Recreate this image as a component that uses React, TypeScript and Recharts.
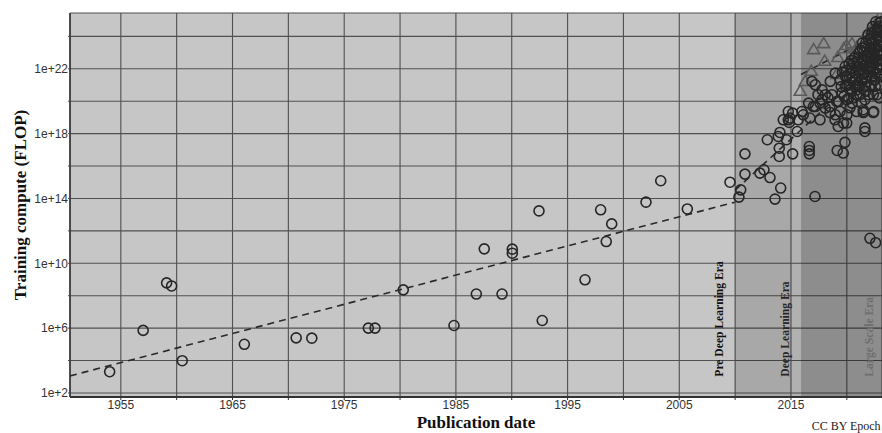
import React from 'react';
import { ScatterChart, Scatter, XAxis, YAxis, CartesianGrid, ReferenceArea } from 'recharts';

// [publication year, log10(training compute FLOP)]
const preDeepLearningModels: [number, number][] = [
  [1954.0, 3.31], [1957.0, 5.86], [1959.1, 8.79], [1959.55, 8.6], [1960.5, 3.99],
  [1966.06, 5.0], [1970.7, 5.4], [1972.1, 5.38], [1977.16, 6.0], [1977.76, 6.0],
  [1980.29, 8.36], [1984.83, 6.16], [1986.83, 8.1], [1987.54, 10.89], [1989.13, 8.1],
  [1990.05, 10.87], [1990.05, 10.62], [1992.44, 13.23], [1992.73, 6.47], [1996.56, 8.98],
  [1997.96, 13.3], [1998.95, 12.43], [1998.46, 11.34], [2002.02, 13.77], [2003.34, 15.09],
  [2005.72, 13.35], [2009.54, 15.0],
];

const deepLearningModels: [number, number][] = [
  [2010.34, 14.08], [2010.5, 14.53], [2010.88, 15.5], [2010.88, 16.75], [2012.22, 15.56],
  [2012.58, 15.77], [2013.12, 15.29], [2013.57, 13.96], [2014.08, 14.64], [2012.88, 17.62],
  [2013.86, 17.82], [2014.01, 18.07], [2013.95, 17.1], [2013.95, 16.59], [2014.6, 17.62],
  [2014.76, 18.85], [2014.85, 18.69], [2014.91, 18.96], [2015.56, 18.13], [2015.15, 16.75],
  [2015.15, 19.26], [2014.76, 19.36], [2014.31, 18.85], [2015.65, 18.85],
];

const recentModels: [number, number][] = [
  [2015.98, 19.36], [2016.1, 19.16], [2016.7, 18.96], [2016.64, 17.2], [2016.64, 16.96],
  [2016.64, 16.75], [2017.15, 14.12], [2017.6, 18.85], [2017.0, 19.67], [2018.49, 19.3],
  [2019.23, 18.44], [2019.7, 18.65], [2019.14, 16.96], [2019.68, 16.8], [2019.83, 17.46],
  [2021.62, 18.35], [2021.62, 18.13], [2021.47, 19.3], [2022.37, 19.3], [2022.07, 11.54],
  [2022.58, 11.27],
  [2016.88, 21.22], [2017.18, 21.01], [2017.78, 20.7], [2018.07, 20.4], [2018.67, 20.4],
  [2019.27, 19.98], [2020.17, 20.19], [2020.46, 19.88], [2020.91, 20.4], [2021.96, 20.4],
  [2021.51, 19.36], [2022.41, 19.36], [2017.18, 19.67], [2018.07, 19.57], [2018.97, 19.16],
  [2020.01, 19.16], [2019.41, 21.32], [2018.97, 21.73], [2020.01, 21.52], [2020.76, 21.73],
  [2019.86, 22.14], [2020.61, 22.35], [2021.36, 22.56], [2021.96, 22.97], [2022.55, 23.17],
  [2021.06, 22.97], [2021.65, 23.38], [2022.25, 23.59], [2022.85, 23.48], [2021.36, 21.32],
  [2022.25, 21.52], [2022.7, 22.04], [2021.96, 21.94], [2022.55, 20.91], [2021.65, 20.91],
  [2020.76, 20.91], [2019.86, 20.91], [2018.52, 21.22], [2017.78, 20.09], [2016.58, 19.88],
  [2017.6, 19.88], [2018.49, 19.67], [2019.09, 19.98], [2019.39, 19.36], [2018.94, 18.85],
  [2019.99, 18.65], [2020.88, 19.36], [2021.47, 19.47], [2021.62, 20.09], [2022.37, 20.4],
  [2019.99, 21.01], [2020.43, 20.6], [2021.02, 21.12], [2020.28, 21.73], [2020.88, 22.14],
  [2021.47, 22.35], [2021.78, 22.76], [2022.07, 23.17], [2022.37, 23.59], [2022.67, 24.0],
  [2022.82, 24.41], [2022.97, 24.84], [2022.7, 24.51], [2022.25, 24.2], [2021.96, 23.79],
  [2021.36, 23.28], [2021.02, 22.68], [2020.46, 22.04], [2022.97, 23.79], [2022.97, 22.86],
  [2022.85, 22.56], [2021.18, 21.94], [2021.71, 21.44], [2022.43, 22.56], [2022.97, 21.94],
  [2022.97, 21.01], [2022.7, 20.4], [2022.07, 22.43], [2021.52, 23.05], [2022.61, 23.3],
  [2023.06, 24.28], [2020.73, 21.32], [2021.18, 20.4], [2020.28, 19.59], [2019.57, 20.52],
  [2018.31, 20.22], [2017.42, 20.4],
  [2020.2, 21.0], [2020.5, 21.4], [2020.6, 20.2], [2020.9, 20.7], [2021.1, 21.6],
  [2021.3, 22.0], [2021.4, 20.8], [2021.5, 21.7], [2021.6, 22.2], [2021.8, 21.2],
  [2021.9, 22.6], [2022.0, 23.0], [2022.1, 21.8], [2022.2, 22.2], [2022.3, 22.9],
  [2022.4, 23.3], [2022.5, 21.3], [2022.5, 22.7], [2022.6, 23.8], [2022.7, 24.2],
  [2022.8, 23.1], [2022.9, 22.2], [2022.9, 24.6], [2023.0, 23.4], [2023.05, 24.9],
  [2021.2, 23.1], [2021.7, 23.6], [2020.7, 22.7], [2019.6, 21.8], [2019.9, 21.5],
  [2020.4, 22.5], [2021.9, 24.1], [2022.3, 24.6], [2022.6, 24.9], [2022.0, 20.9],
  [2022.8, 21.7], [2021.3, 19.9], [2022.9, 20.2], [2020.0, 20.1], [2019.5, 20.9],
  [2021.0, 21.9], [2021.25, 22.3], [2021.55, 22.6], [2021.75, 22.0], [2021.85, 21.6],
  [2022.05, 22.1], [2022.15, 22.7], [2022.35, 21.9], [2022.45, 22.3], [2022.55, 21.7],
  [2022.65, 22.5], [2022.75, 22.9], [2022.85, 23.9], [2022.95, 23.1], [2023.05, 22.5],
  [2023.05, 21.5], [2022.2, 21.0], [2021.7, 20.6], [2021.1, 20.9], [2020.55, 21.2],
  [2020.3, 20.7], [2019.75, 20.3], [2020.85, 21.0], [2022.45, 24.3], [2022.15, 23.9],
  [2021.75, 23.2], [2021.4, 23.6], [2020.95, 22.4], [2020.2, 22.3], [2019.95, 21.9],
];

const largeScaleModels: [number, number][] = [
  [2015.83, 20.6], [2016.28, 21.2], [2016.82, 21.83], [2017.03, 23.17], [2017.93, 23.54],
  [2018.02, 22.45], [2019.09, 21.63], [2019.19, 22.68], [2019.72, 23.22], [2019.99, 23.42],
  [2020.46, 23.54], [2020.61, 22.68], [2020.9, 23.3], [2021.78, 24.1], [2022.07, 23.79],
  [2022.22, 24.41], [2022.67, 24.72], [2022.97, 25.2],
];

const preDeepLearningTrend: [number, number][] = [[1950.45, 3.05], [2010.0, 13.77]];
const deepLearningTrend: [number, number][] = [[2010.0, 14.51], [2022.5, 22.39]];
const largeScaleTrend: [number, number][] = [[2015.9, 21.65], [2022.9, 24.17]];

const xDomain: [number, number] = [1950.45, 2023.15];
const yDomain: [number, number] = [1.75, 25.44];
const xTicks = [1955, 1960, 1965, 1970, 1975, 1980, 1985, 1990, 1995, 2000, 2005, 2010, 2015, 2020];
const yTicks = [2, 4, 6, 8, 10, 12, 14, 16, 18, 20, 22, 24];
const xLabelEvery = 10;
const yLabelEvery = 4;

const eras = [
  { name: 'Pre Deep Learning Era', start: 1950.45, end: 2010.0, color: '#111111', inset: 12 },
  { name: 'Deep Learning Era', start: 2010.0, end: 2015.9, color: '#262626', inset: 12 },
  { name: 'Large Scale Era', start: 2015.9, end: 2023.15, color: '#6e6e6e', inset: 9.5 },
];
const shades = [
  { start: 2010.0, end: 2015.0, opacity: 0.15 },
  { start: 2015.0, end: 2015.9, opacity: 0.105 },
  { start: 2015.9, end: 2023.15, opacity: 0.285 },
];

const toPoints = (arr: [number, number][]) => arr.map(([x, y]) => ({ x, y }));

const SERIF = '"Liberation Serif", "Times New Roman", serif';
const SANS = '"Liberation Sans", Arial, sans-serif';

const CircleShape = (p: any) => (
  <circle cx={p.cx} cy={p.cy} r={5} fill="none" stroke="#262626" strokeWidth={1.6} />
);
const TriangleShape = (p: any) => (
  <polygon
    points={`${p.cx},${p.cy - 6.3} ${p.cx - 6},${p.cy + 3.8} ${p.cx + 6},${p.cy + 3.8}`}
    fill="none"
    stroke="#5a5a5a"
    strokeWidth={1.6}
  />
);
const NoShape = () => <g />;

const eraLabel = (text: string, color: string, inset: number) => (props: any) => {
  const vb = props.viewBox || {};
  const x = vb.x + vb.width - inset;
  const y = vb.y + vb.height - 20.3;
  return (
    <text
      transform={`translate(${x},${y}) rotate(-90)`}
      textAnchor="start"
      fontFamily={SERIF}
      fontWeight="bold"
      fontSize={11.6}
      fill={color}
    >
      {text}
    </text>
  );
};

const dashed = { stroke: '#2a2a2a', strokeWidth: 1.6, strokeDasharray: '7 5' };

export default function App() {
  return (
    <div style={{ position: 'absolute', left: 0, top: 0, width: 882, height: 433, background: '#ffffff' }}>
      <ScatterChart width={882} height={433} margin={{ top: 13, right: 0, bottom: 0, left: 0 }}>
        <CartesianGrid stroke="#505050" strokeWidth={1.1} fill="#c6c6c6" fillOpacity={1} />
        {shades.map((s, i) => (
          <ReferenceArea key={`s${i}`} x1={s.start} x2={s.end} fill="#000000" fillOpacity={s.opacity} stroke="none" ifOverflow="hidden" />
        ))}
        {eras.map((e) => (
          <ReferenceArea key={e.name} x1={e.start} x2={e.end} fill="none" fillOpacity={0} stroke="none" label={eraLabel(e.name, e.color, e.inset)} ifOverflow="hidden" />
        ))}
        <XAxis
          type="number"
          dataKey="x"
          domain={xDomain}
          allowDataOverflow
          ticks={xTicks}
          interval={0}
          tickFormatter={(v: number) => ((v - 1955) % xLabelEvery === 0 ? String(v) : '')}
          height={36}
          tickSize={3}
          tickMargin={0}
          axisLine={{ stroke: '#333333', strokeWidth: 2 }}
          tickLine={{ stroke: '#333333' }}
          tick={{ fill: '#333333', fontSize: 12, fontFamily: SANS }}
        />
        <YAxis
          type="number"
          dataKey="y"
          domain={yDomain}
          allowDataOverflow
          ticks={yTicks}
          interval={0}
          tickFormatter={(v: number) => ((Math.round(v) - 2) % yLabelEvery === 0 ? `1e+${Math.round(v)}` : '')}
          width={70}
          tickSize={2}
          tickMargin={0}
          axisLine={{ stroke: '#333333', strokeWidth: 1.5 }}
          tickLine={{ stroke: '#505050' }}
          tick={{ fill: '#333333', fontSize: 12, fontFamily: SANS }}
        />
        <Scatter data={toPoints(preDeepLearningTrend)} line={dashed} shape={NoShape} isAnimationActive={false} />
        <Scatter data={toPoints(deepLearningTrend)} line={dashed} shape={NoShape} isAnimationActive={false} />
        <Scatter data={toPoints(largeScaleTrend)} line={dashed} shape={NoShape} isAnimationActive={false} />
        <Scatter data={toPoints(largeScaleModels)} shape={TriangleShape} isAnimationActive={false} />
        <Scatter data={toPoints(preDeepLearningModels)} shape={CircleShape} isAnimationActive={false} />
        <Scatter data={toPoints(deepLearningModels)} shape={CircleShape} isAnimationActive={false} />
        <Scatter data={toPoints(recentModels)} shape={CircleShape} isAnimationActive={false} />
      </ScatterChart>
      <svg width={882} height={433} style={{ position: 'absolute', left: 0, top: 0, pointerEvents: 'none' }}>
        <text transform="translate(25.5,205) rotate(-90)" textAnchor="middle" fontFamily={SERIF} fontWeight="bold" fontSize={17} fill="#111111">
          Training compute (FLOP)
        </text>
        <text x={476} y={428.3} textAnchor="middle" fontFamily={SERIF} fontWeight="bold" fontSize={17} fill="#111111">
          Publication date
        </text>
        <text x={880.6} y={429.5} textAnchor="end" fontFamily={SERIF} fontSize={12} fill="#222222">
          CC BY Epoch
        </text>
      </svg>
    </div>
  );
}
